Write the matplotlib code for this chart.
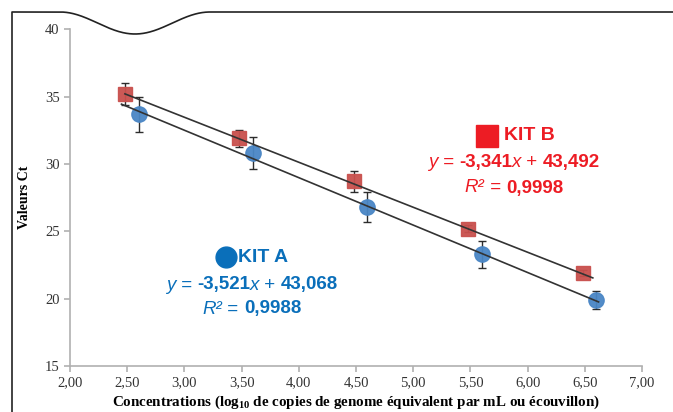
"""
Courbes d'étalonnage Ct vs log10 concentration, KIT A et KIT B.
"""

import matplotlib.pyplot as plt
import numpy as np
from matplotlib.lines import Line2D
from matplotlib.ticker import FuncFormatter

W, H = 673, 412

# --- Data ------------------------------------------------------------------

kit_a_x = [2.60, 3.60, 4.60, 5.60, 6.60]
kit_a_ct = [33.7, 30.8, 26.8, 23.3, 19.9]
kit_a_err = [1.3, 1.2, 1.1, 1.0, 0.7]

kit_b_x = [2.48, 3.48, 4.48, 5.48, 6.48]
kit_b_ct = [35.2, 31.9, 28.7, 25.2, 21.9]
kit_b_err = [0.8, 0.65, 0.8, 0.25, 0.2]

# regression lines (slope, intercept, drawn span)
kit_a_fit = (-3.521, 43.068, 2.45, 6.62)
kit_b_fit = (-3.341, 43.492, 2.48, 6.57)

x_ticks = [2.0, 2.5, 3.0, 3.5, 4.0, 4.5, 5.0, 5.5, 6.0, 6.5, 7.0]
y_ticks = [15, 20, 25, 30, 35, 40]

RED_TXT = "#ed1c24"
BLUE_TXT = "#0a6fba"
RED_MK = "#c9504d"
BLUE_MK = "#4a86c5"
AXIS_GRAY = "#b0b0b0"


def rich_text(fig, xc, yc, parts, color, size):
    """Draw a line of mixed-style text centred on pixel position (xc, yc)."""
    renderer = fig.canvas.get_renderer()
    texts = []
    for s, style, weight in parts:
        t = fig.text(0, 0, s, fontsize=size, color=color, style=style,
                     weight=weight, family="Liberation Sans", va="center")
        texts.append(t)
    widths = [t.get_window_extent(renderer).width for t in texts]
    x = xc - sum(widths) / 2
    for t, w in zip(texts, widths):
        t.set_position((x / W, 1 - yc / H))
        x += w


def main():
    plt.rcParams["mathtext.fontset"] = "custom"
    plt.rcParams["mathtext.rm"] = "Liberation Serif:bold"
    plt.rcParams["mathtext.it"] = "Liberation Serif:bold"
    plt.rcParams["mathtext.bf"] = "Liberation Serif:bold"

    fig = plt.figure(figsize=(W / 100, H / 100), dpi=100)
    ax = fig.add_axes([70 / W, 1 - 366 / H, (642 - 70) / W, (366 - 29.3) / H])

    # trend lines
    for slope, icpt, x0, x1 in (kit_a_fit, kit_b_fit):
        xs = np.array([x0, x1])
        ax.plot(xs, slope * xs + icpt, color="#333333", lw=1.2, zorder=3)

    ax.errorbar(kit_b_x, kit_b_ct, yerr=kit_b_err, fmt="s", ms=10,
                mfc=RED_MK, mec=RED_MK, alpha=0.95, ecolor="#222222",
                elinewidth=1, capsize=3, capthick=1, zorder=2)
    ax.errorbar(kit_a_x, kit_a_ct, yerr=kit_a_err, fmt="o", ms=11,
                mfc=BLUE_MK, mec=BLUE_MK, alpha=0.95, ecolor="#222222",
                elinewidth=1, capsize=3, capthick=1, zorder=2)

    ax.set_xlim(2, 7)
    ax.set_ylim(15, 40)
    ax.set_xticks(x_ticks)
    ax.set_yticks(y_ticks)
    ax.xaxis.set_major_formatter(FuncFormatter(lambda v, p: f"{v:.2f}".replace(".", ",")))
    ax.yaxis.set_major_formatter(FuncFormatter(lambda v, p: f"{v:.0f}"))

    for side in ("top", "right"):
        ax.spines[side].set_visible(False)
    for side in ("left", "bottom"):
        ax.spines[side].set_color(AXIS_GRAY)
        ax.spines[side].set_linewidth(1.2)
    ax.tick_params(direction="out", length=4, color=AXIS_GRAY, width=1.2,
                   labelsize=10.5, labelcolor="#333333")
    for lab in ax.get_xticklabels() + ax.get_yticklabels():
        lab.set_family("Liberation Serif")

    ax.set_ylabel("Valeurs Ct", family="Liberation Serif", weight="bold",
                  fontsize=10, labelpad=10)
    ax.set_xlabel("Concentrations (log$_{10}$ de copies de genome équivalent par mL ou écouvillon)",
                  family="Liberation Serif", weight="bold", fontsize=10.8, labelpad=3)

    # frame with a wavy notch on top
    xs = np.linspace(0, W, 800)
    ys = np.full_like(xs, 12.0)
    m = (xs > 60) & (xs < 210)
    ys[m] = 12 + 11 * (1 - np.cos(2 * np.pi * (xs[m] - 60) / 150))
    fig.add_artist(Line2D(np.r_[12 / W, 12 / W, xs[xs >= 12] / W],
                          np.r_[0, 1 - 12 / H, 1 - ys[xs >= 12] / H],
                          transform=fig.transFigure, color="#222222", lw=1.2))

    # KIT B annotation
    fig.add_artist(Line2D([487 / W], [1 - 136 / H], marker="s", ms=16,
                          color=RED_TXT, transform=fig.transFigure))
    fig.text(504 / W, 1 - 135 / H, "KIT B", fontsize=14, weight="bold",
             color=RED_TXT, family="Liberation Sans", va="center")
    rich_text(fig, 514, 163, [("y", "italic", "normal"), (" = ", "normal", "normal"),
                              ("-3,341", "normal", "bold"), ("x", "italic", "normal"),
                              (" + ", "normal", "normal"), ("43,492", "normal", "bold")],
              RED_TXT, 13.5)
    rich_text(fig, 514, 188, [("R²", "italic", "normal"), (" = ", "normal", "normal"),
                              ("0,9998", "normal", "bold")], RED_TXT, 13.5)

    # KIT A annotation
    fig.add_artist(Line2D([226 / W], [1 - 257 / H], marker="o", ms=15,
                          color=BLUE_TXT, transform=fig.transFigure))
    fig.text(238 / W, 1 - 257 / H, "KIT A", fontsize=14, weight="bold",
             color=BLUE_TXT, family="Liberation Sans", va="center")
    rich_text(fig, 252, 285, [("y", "italic", "normal"), (" = ", "normal", "normal"),
                              ("-3,521", "normal", "bold"), ("x", "italic", "normal"),
                              (" + ", "normal", "normal"), ("43,068", "normal", "bold")],
              BLUE_TXT, 13.5)
    rich_text(fig, 252, 309, [("R²", "italic", "normal"), (" = ", "normal", "normal"),
                              ("0,9988", "normal", "bold")], BLUE_TXT, 13.5)

    fig.savefig("out.png", dpi=100)
    plt.close(fig)


if __name__ == "__main__":
    main()
